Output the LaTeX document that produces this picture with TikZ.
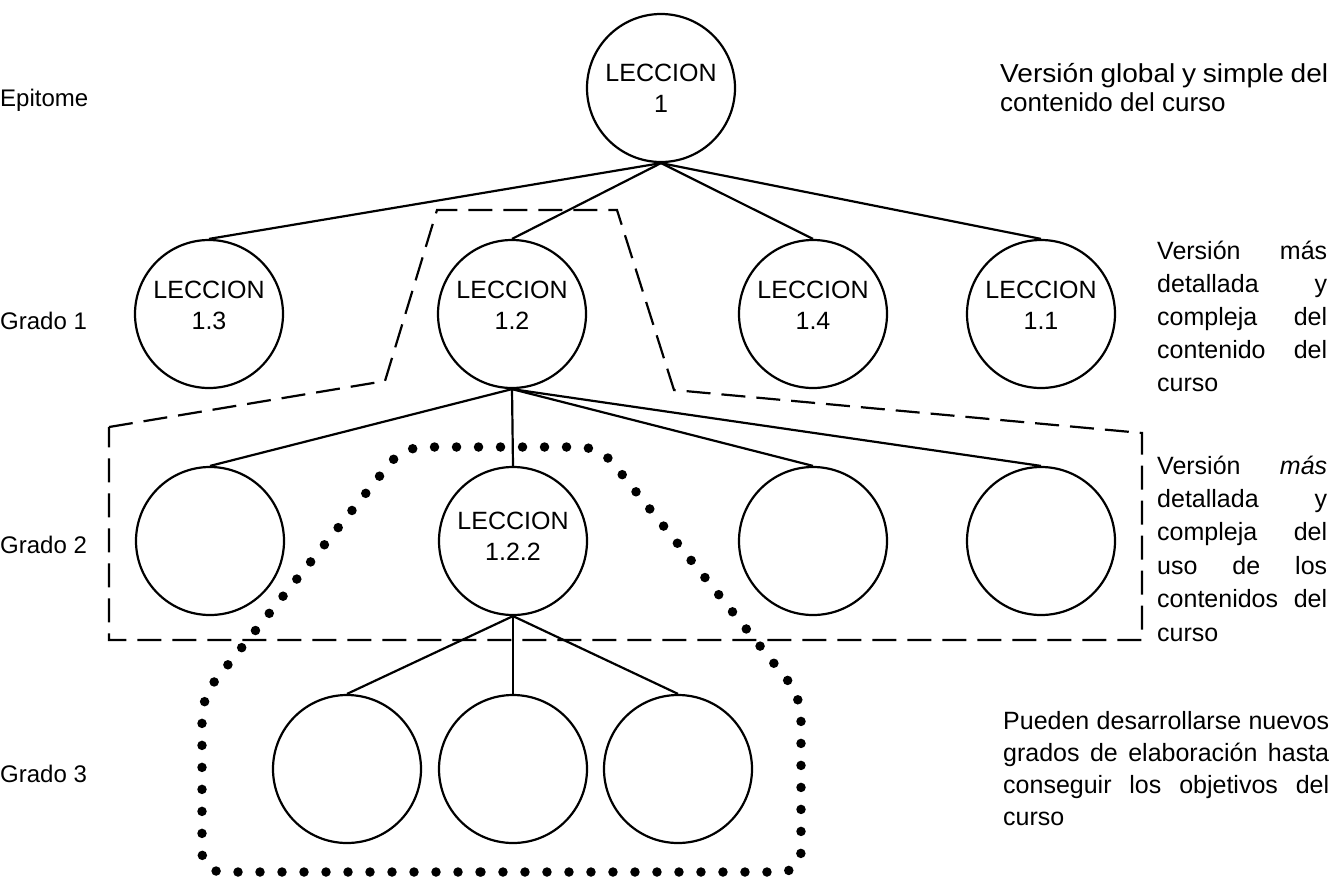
\documentclass[tikz,border=0pt]{standalone}
\usepackage{fontspec}
\setmainfont{Liberation Sans}
\newcommand\blocktext[4]{\parbox[t]{#1}{\fontsize{#2}{#3}\selectfont\hyphenpenalty=10000\exhyphenpenalty=10000\tolerance=10000\emergencystretch=20pt #4}}
\begin{document}
\begin{tikzpicture}[x=1pt,y=-1pt,
  lesson/.style={circle, draw, line width=2.2pt, minimum size=148pt, inner sep=0pt, align=center, font=\fontsize{25}{31}\selectfont},
  link/.style={line width=2.2pt},
  dashline/.style={line width=2.2pt, dash pattern=on 24pt off 11pt},
  dotline/.style={line width=9.5pt, line cap=round, dash pattern=on 0pt off 22pt},
  lbl/.style={anchor=base west, inner sep=0pt, font=\fontsize{24}{29}\selectfont},
  blk/.style={anchor=base west, inner sep=0pt},
]
\useasboundingbox (0,0) rectangle (1332,879);

% grouping outlines
\draw[dashline] (109,427) -- (385,381) -- (437,210) -- (617,210) -- (674,390) -- (1142,433) -- (1142,640) -- (109,640) -- cycle;
\draw[dotline, rounded corners=20pt] (500,872) -- (202,872) -- (202,697) -- (403,447) -- (600,447) -- (801,697) -- (801,872) -- cycle;

% lessons
\node[lesson] (r)  at (661,88)  {LECCION\\1};
\node[lesson] (a3) at (209,314) {LECCION\\1.3\\[-14pt]{}};
\node[lesson] (a2) at (512,314) {LECCION\\1.2\\[-14pt]{}};
\node[lesson] (a4) at (813,314) {LECCION\\1.4\\[-14pt]{}};
\node[lesson] (a1) at (1041,314) {LECCION\\1.1\\[-14pt]{}};
\node[lesson] (b1) at (210,541) {};
\node[lesson] (b2) at (513,541) {LECCION\\1.2.2\\[-22pt]{}};
\node[lesson] (b3) at (813,541) {};
\node[lesson] (b4) at (1041,541) {};
\node[lesson] (c1) at (347,769) {};
\node[lesson] (c2) at (513,769) {};
\node[lesson] (c3) at (678,769) {};

% connectors
\foreach \n in {a3,a2,a4,a1} \draw[link] (r.south) -- (\n.north);
\foreach \n in {b1,b2,b3,b4} \draw[link] (a2.south) -- (\n.north);
\foreach \n in {c1,c2,c3} \draw[link] (b2.south) -- (\n.north);

% left labels
\node[lbl] (l0) at (0,106) {Epitome};
\node[lbl] (l1) at (0,329) {Grado 1};
\node[lbl] (l2) at (0,553) {Grado 2};
\node[lbl] (l3) at (0,782) {Grado 3};

% right descriptions
\node[blk] (d0) at (1000,82) {\blocktext{328pt}{26}{29}{\makebox[\linewidth][s]{\addfontfeature{FakeStretch=1.08}\spaceskip=2pt plus 20pt Versión global y simple del}\par contenido del curso}};
\node[blk] (d1) at (1157,259) {\blocktext{170pt}{25}{33}{Versión más\linebreak detallada y\linebreak compleja del\linebreak contenido del\linebreak curso}};
\node[blk] (d2) at (1157,474) {\blocktext{170pt}{25}{33.4}{Versión \textit{más}\linebreak detallada y\linebreak compleja del\linebreak uso de los\linebreak contenidos del\linebreak curso}};
\node[blk] (d3) at (1003,729) {\blocktext{326pt}{25}{32}{Pueden desarrollarse nuevos\linebreak grados de elaboración hasta\linebreak conseguir los objetivos del\linebreak curso}};
\end{tikzpicture}
\end{document}
